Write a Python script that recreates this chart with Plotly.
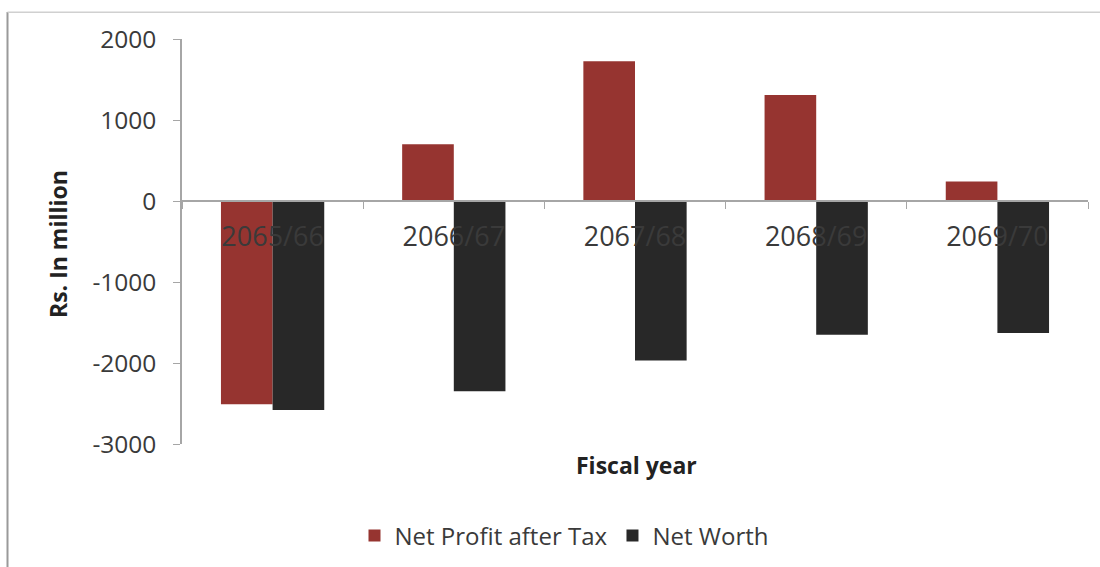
import plotly.graph_objects as go

# Fiscal years and financial figures (Rs. in million)
years = ["2065/66", "2066/67", "2067/68", "2068/69", "2069/70"]
net_profit_after_tax = [-2510, 700, 1725, 1310, 240]
net_worth = [-2580, -2350, -1970, -1650, -1630]
y_ticks = [2000, 1000, 0, -1000, -2000, -3000]
y_tick_text = ["2000", "1000", "0", "-1000", "-2000", "-3000"]

RED = "#963430"
BLACK = "#282828"
AXIS_GRAY = "#a6a6a6"
TEXT = "#3a3a3a"
FONT = "Open Sans"

# plot area in pixels
W, H = 1100, 567
L, R, T, B = 182, 12, 39, 123
pw, ph = W - L - R, H - T - B


def px_x(x):
    return (x - L) / pw


def px_y(y):
    return (H - B - y) / ph


fig = go.Figure()
fig.add_trace(go.Bar(x=years, y=net_profit_after_tax, name="Net Profit after Tax",
                     marker=dict(color=RED, line=dict(width=0))))
fig.add_trace(go.Bar(x=years, y=net_worth, name="Net Worth",
                     marker=dict(color=BLACK, line=dict(width=0))))

y_min, y_max = -3000, 2000
fig.update_layout(
    width=W, height=H,
    margin=dict(l=L, r=R, t=T, b=B, autoexpand=False),
    paper_bgcolor="white", plot_bgcolor="white",
    barmode="group", bargap=0.43, bargroupgap=0,
    font=dict(family=FONT, color=TEXT),
    showlegend=True,
    legend=dict(orientation="h", x=px_x(564), xanchor="center",
                y=px_y(536), yanchor="middle",
                font=dict(family=FONT, size=24, color=TEXT),
                bgcolor="rgba(0,0,0,0)"),
    xaxis=dict(
        type="category",
        anchor="free", position=(0 - y_min) / (y_max - y_min),
        showline=True, linecolor=AXIS_GRAY, linewidth=1.5,
        ticks="outside", tickson="boundaries", ticklen=7, tickcolor=AXIS_GRAY,
        tickfont=dict(family=FONT, size=27, color=TEXT),
        ticklabelstandoff=12,
        showgrid=False, zeroline=False,
    ),
    yaxis=dict(
        range=[y_min, y_max], tickvals=y_ticks, ticktext=y_tick_text,
        showline=True, linecolor=AXIS_GRAY, linewidth=1.5,
        ticks="outside", ticklen=7, tickcolor=AXIS_GRAY,
        tickfont=dict(family=FONT, size=24.5, color=TEXT),
        ticklabelstandoff=12,
        showgrid=False, zeroline=False,
    ),
)

fig.add_annotation(text="<b>Rs. In million</b>", xref="paper", yref="paper",
                   x=px_x(58), y=px_y(244), xanchor="center", yanchor="middle",
                   textangle=-90, showarrow=False,
                   font=dict(family=FONT, size=23, color="#222222"))
fig.add_annotation(text="<b>Fiscal year</b>", xref="paper", yref="paper",
                   x=px_x(636), y=px_y(465), xanchor="center", yanchor="middle",
                   showarrow=False, font=dict(family=FONT, size=23, color="#222222"))

# chart frame edges
fig.add_shape(type="line", xref="paper", yref="paper",
              x0=px_x(7.5), x1=px_x(7.5), y0=px_y(12), y1=px_y(575),
              line=dict(color="#9a9a9a", width=2))
fig.add_shape(type="line", xref="paper", yref="paper",
              x0=px_x(7.5), x1=px_x(1105), y0=px_y(12.3), y1=px_y(12.3),
              line=dict(color="#d0d0d0", width=1.5))

fig.write_html("out.html")
